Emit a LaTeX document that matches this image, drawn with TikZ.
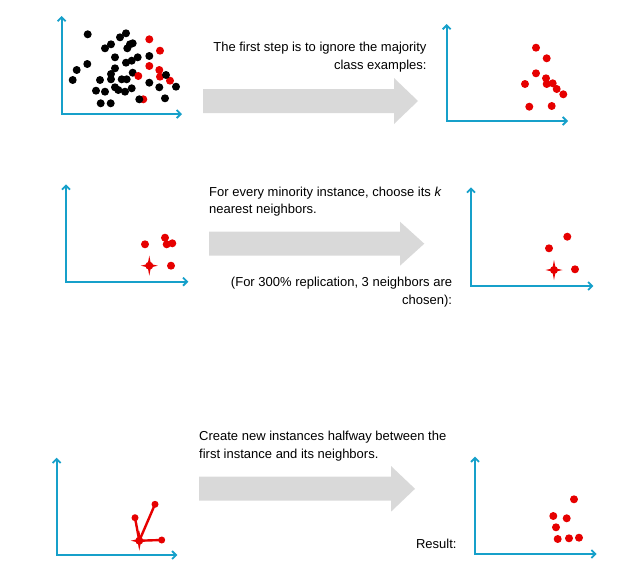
\documentclass[tikz,border=0pt]{standalone}
\usepackage{fontspec}
\setmainfont{Liberation Sans}
\usetikzlibrary{arrows.meta}
\definecolor{axisblue}{RGB}{22,160,202}
\definecolor{dotred}{RGB}{230,0,0}
\definecolor{arrowgray}{RGB}{217,217,217}
\tikzset{
	axis/.style={axisblue, line width=1.8pt, {Straight Barb[length=4pt,width=8pt]}-{Straight Barb[length=4pt,width=8pt]}},
	bdot/.style={circle, fill=black, inner sep=0pt, minimum size=8pt},
	rdot/.style={circle, fill=dotred, inner sep=0pt, minimum size=8pt},
	bigarrow/.style={fill=arrowgray},
	caption/.style={inner sep=0pt, font=\fontsize{13}{17.5}\selectfont},
	pics/spark/.style={code={\fill[dotred] (0,-10) -- (1.6,-1.6) -- (8.5,0) -- (1.6,1.6) -- (0,10) -- (-1.6,1.6) -- (-8.5,0) -- (-1.6,-1.6) -- cycle;}}
}
\begin{document}
\begin{tikzpicture}[x=1pt,y=-1pt]
				\useasboundingbox (0,0) rectangle (635,568);
				% top row: all examples / minority only
				\coordinate (ya) at (61.7,16); \coordinate (oa) at (61.7,114); \coordinate (xa) at (182,114);
				\draw[axis] (ya) -- (oa) -- (xa);
				\foreach \x/\y [count=\i] in {87.7/34.3,120/37.3,126/33.3,105/48.3,111/44.3,130/44.3,132.7/43.3,127.3/48.3,115/57.3,137.7/57.3,149.3/56,87.3/64,76.7/70,126/62.7,131.7/60.7,115/68.3,111/74,132.7/72.7,72.7/80,100/80,111/79.3,121.7/79.3,126.7/79.3,149.3/82.7,176/86.7,96/90.7,105/91.7,115/87.3,118.3/90,125/91.7,131.7/88.3,159.3/87.3,100.7/103.3,110.7/103.3,165/98.3}
					\node[bdot] (b\i) at (\x,\y) {};
				\foreach \x/\y [count=\i] in {149.3/39.3,160/50.7,149.3/66,159.3/70,138.3/76,160/76.7,170/80.7,143.3/99.3}
					\node[rdot] (r\i) at (\x,\y) {};
				\node[bdot] (b36) at (139.3,99.3) {}; \node[bdot] (b37) at (166,75) {};
				\fill[bigarrow] (203,89) -- (394,89) -- (394,78) -- (418,101) -- (394,124) -- (394,113) -- (203,113) -- cycle;
				\node[caption, anchor=base east, align=right] (t1) at (426.7,69.3) {The first step is to ignore the majority\\class examples:};
				\coordinate (yb) at (446.7,24); \coordinate (ob) at (446.7,121); \coordinate (xb) at (568,121);
				\draw[axis] (yb) -- (ob) -- (xb);
				\foreach \x/\y [count=\i] in {536/47.7,546.7/58.3,536/73.3,525/84,546/78.3,546.7/84,552.7/83.3,556.7/89,563.3/94.3,529.3/106.7,551.7/106}
					\node[rdot] (m\i) at (\x,\y) {};
				% middle row: k nearest neighbors
				\coordinate (yc) at (66,184.3); \coordinate (oc) at (66,281.7); \coordinate (xc) at (188.3,281.7);
				\draw[axis] (yc) -- (oc) -- (xc);
				\foreach \x/\y [count=\i] in {145/244.3,165/237.7,166.7/244.3,172.3/243.3,171/265.7}
					\node[rdot] (k\i) at (\x,\y) {};
				\pic at (149.3,265.7) {spark}; \node[rdot] (sc) at (149.3,265.7) {};
				\fill[bigarrow] (209,231.7) -- (400,231.7) -- (400,221.7) -- (424.3,243.7) -- (400,265.7) -- (400,255.7) -- (209,255.7) -- cycle;
				\node[caption, anchor=base west, align=left] (t2) at (209,213.7) {For every minority instance, choose its \textit{k}\\nearest neighbors.};
				\node[caption, anchor=base east, align=right] (t3) at (452.3,304.3) {(For 300\% replication, 3 neighbors are\\chosen):};
				\coordinate (yd) at (471,187.3); \coordinate (od) at (471,286); \coordinate (xd) at (593.3,286);
				\draw[axis] (yd) -- (od) -- (xd);
				\foreach \x/\y [count=\i] in {567.3/236.7,549/248.3,575/269.3}
					\node[rdot] (n\i) at (\x,\y) {};
				\pic at (554,270) {spark}; \node[rdot] (sd) at (554,270) {};
				% bottom row: new instances halfway
				\coordinate (ye) at (56.7,457.7); \coordinate (oe) at (56.7,555); \coordinate (xe) at (177.3,555);
				\draw[axis] (ye) -- (oe) -- (xe);
				\pic at (139.3,540.7) {spark}; \node[rdot] (se) at (139.3,540.7) {};
				\node[rdot, minimum size=7pt] (h1) at (135,517.7) {};
				\node[rdot, minimum size=7pt] (h2) at (155,504.3) {};
				\node[rdot, minimum size=7pt] (h3) at (161.7,540) {};
				\draw[dotred, line width=2.4pt] (se.center) -- (h1.center) (se.center) -- (h2.center) (se.center) -- (h3.center);
				\fill[bigarrow] (199,476.7) -- (391,476.7) -- (391,466) -- (415,488.8) -- (391,511.7) -- (391,500.7) -- (199,500.7) -- cycle;
				\node[caption, anchor=base west, align=left] (t4) at (199,458) {Create new instances halfway between the\\first instance and its neighbors.};
				\node[caption, anchor=base east] (t5) at (456.7,548.5) {Result:};
				\coordinate (yf) at (475,456.7); \coordinate (of) at (475,554); \coordinate (xf) at (596.7,554);
				\draw[axis] (yf) -- (of) -- (xf);
				\foreach \x/\y [count=\i] in {574/499.3,553.3/516,566.7/518.3,556/527.3,557.7/539,569/538.3,579/537.7}
					\node[rdot] (g\i) at (\x,\y) {};
\end{tikzpicture}
\end{document}
